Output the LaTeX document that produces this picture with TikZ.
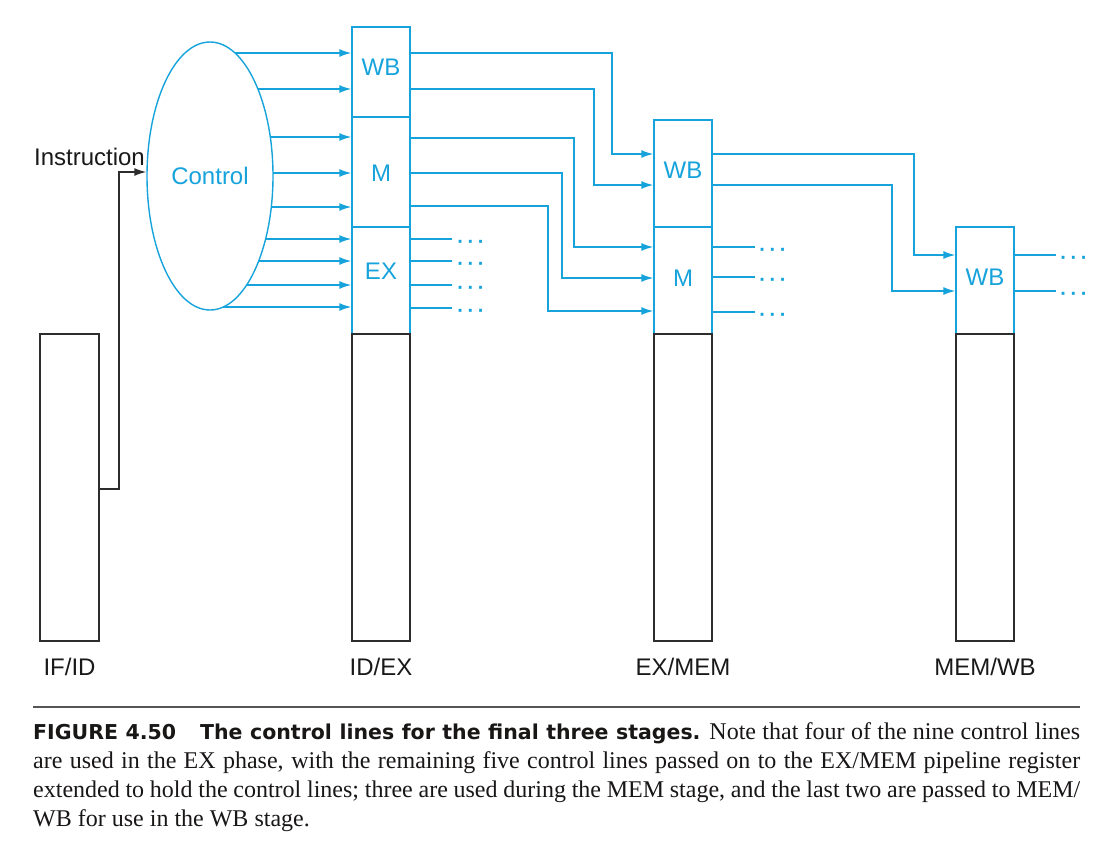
\documentclass[tikz,border=0pt]{standalone}
\usepackage{fontspec}
\setmainfont{Liberation Serif}
\newfontfamily\diagfont{Liberation Sans}
\newfontfamily\heavyfont{DejaVu Sans}
\usetikzlibrary{arrows.meta,shapes.geometric}
\definecolor{cblue}{RGB}{22,163,219}
\definecolor{cblack}{RGB}{45,45,45}
\definecolor{ctext}{RGB}{25,22,22}
\definecolor{crule}{RGB}{85,85,85}
\newcommand\mydots{\textperiodcentered\kern3.6pt\textperiodcentered\kern3.6pt\textperiodcentered}
\begin{document}
\begin{tikzpicture}[x=1pt,y=-1pt,
  bl/.style={draw=cblue, line width=1.4pt},
  blarr/.style={bl, -{Latex[length=12pt,width=8pt]}},
  karr/.style={draw=cblack, line width=1.4pt, -{Latex[length=12pt,width=8pt]}},
  reg/.style={draw=cblue, line width=1.4pt, rectangle, inner sep=0pt, minimum width=58pt},
  regk/.style={draw=cblack, line width=1.4pt, rectangle, inner sep=0pt, minimum width=58pt, minimum height=307pt},
  lbl/.style={font=\diagfont\fontsize{24}{28}\selectfont, text=cblue, inner sep=0pt},
  klbl/.style={font=\diagfont\fontsize{24}{28}\selectfont, text=black!90, inner sep=0pt},
  dotsl/.style={font=\diagfont\bfseries\fontsize{20}{24}\selectfont, text=cblue, inner sep=0pt, anchor=base},
]
\useasboundingbox (0,0) rectangle (1108,844);

% Control unit
\node[ellipse, draw=cblue, line width=1.4pt, minimum width=126pt, minimum height=268pt,
      inner sep=0pt, font=\diagfont\fontsize{24}{28}\selectfont, text=cblue] (ctrl) at (210,176) {Control};

% ID/EX register
\node[reg, minimum height=90pt]  (idexwb) at (381,72) {};
\node[reg, minimum height=110pt] (idexm)  at (381,172) {};
\node[reg, minimum height=107pt] (idexex) at (381,280.5) {};
\node[regk] (idexlow) at (381,487.5) {};
\node[lbl, anchor=base] (tidwb) at (381,75) {WB};
\node[lbl, anchor=base] (tidm)  at (381,181.7) {M};
\node[lbl, anchor=base] (tidex) at (381,279.3) {EX};

% EX/MEM register
\node[reg, minimum height=107pt] (exmemwb) at (683,173.5) {};
\node[reg, minimum height=107pt] (exmemm)  at (683,280.5) {};
\node[regk] (exmemlow) at (683,487.5) {};
\node[lbl, anchor=base] (texwb) at (683,178.3) {WB};
\node[lbl, anchor=base] (texm)  at (683,286) {M};

% MEM/WB register
\node[reg, minimum height=107pt] (memwbwb) at (985,280.5) {};
\node[regk] (memwblow) at (985,487.5) {};
\node[lbl, anchor=base] (tmwb) at (985,285.7) {WB};

% IF/ID register
\node[regk, minimum width=59pt] (ifid) at (69.5,487.5) {};

% stage names
\node[klbl, anchor=base] (nifid)  at (69.5,675.7) {IF/ID};
\node[klbl, anchor=base] (nidex)  at (381,675.7) {ID/EX};
\node[klbl, anchor=base] (nexmem) at (683,675.7) {EX/MEM};
\node[klbl, anchor=base] (nmemwb) at (985,675.7) {MEM/WB};

% Instruction into control
\node[klbl, anchor=base east] (tinstr) at (145,165) {Instruction};
\draw[karr] (ifid.east |- 0,489) -| (119,172) -- (ctrl.west |- 0,172);

% control lines from Control to ID/EX
\foreach \y [count=\i] in {53,89,137,173,207,239,261,285,307}
  \coordinate (cs\i) at ({210+63*sqrt(1-((\y-176)/134)*((\y-176)/134))},\y);
\draw[blarr] (cs1) -- (cs1 -| idexwb.west);
\draw[blarr] (cs2) -- (cs2 -| idexwb.west);
\draw[blarr] (cs3) -- (cs3 -| idexm.west);
\draw[blarr] (cs4) -- (cs4 -| idexm.west);
\draw[blarr] (cs5) -- (cs5 -| idexm.west);
\draw[blarr] (cs6) -- (cs6 -| idexex.west);
\draw[blarr] (cs7) -- (cs7 -| idexex.west);
\draw[blarr] (cs8) -- (cs8 -| idexex.west);
\draw[blarr] (cs9) -- (cs9 -| idexex.west);

% ID/EX to EX/MEM
\draw[blarr] (idexwb.east |- 0,53)  -| (612,154) -- (exmemwb.west |- 0,154);
\draw[blarr] (idexwb.east |- 0,89)  -| (594,185) -- (exmemwb.west |- 0,185);
\draw[blarr] (idexm.east |- 0,138)  -| (574,247) -- (exmemm.west |- 0,247);
\draw[blarr] (idexm.east |- 0,173)  -| (562,278) -- (exmemm.west |- 0,278);
\draw[blarr] (idexm.east |- 0,206)  -| (548,311) -- (exmemm.west |- 0,311);

% EX lines used in EX stage
\foreach \y [count=\i] in {239,261,285,308} {
  \coordinate (ee\i) at (452,\y);
  \draw[bl] (idexex.east |- ee\i) -- (ee\i);
  \node[dotsl] (de\i) at (471,\y+9) {\mydots};
}

% EX/MEM to MEM/WB
\draw[blarr] (exmemwb.east |- 0,154) -| (914,255) -- (memwbwb.west |- 0,255);
\draw[blarr] (exmemwb.east |- 0,185) -| (892,291) -- (memwbwb.west |- 0,291);

% M lines used in MEM stage
\foreach \y [count=\i] in {247,277,312} {
  \coordinate (me\i) at (755,\y);
  \draw[bl] (exmemm.east |- me\i) -- (me\i);
  \node[dotsl] (dm\i) at (773,\y+9) {\mydots};
}

% WB lines out of MEM/WB
\foreach \y [count=\i] in {255,291} {
  \coordinate (we\i) at (1056,\y);
  \draw[bl] (memwbwb.east |- we\i) -- (we\i);
  \node[dotsl] (dw\i) at (1074,\y+9) {\mydots};
}

% caption
\draw[draw=crule, line width=2pt] (33,707) -- (1080,707);
\node[anchor=north west, inner sep=0pt, text width=1047pt, align=justify, text=ctext,
      font=\fontsize{24}{29}\selectfont] (cap) at (33,722.5)
{{\heavyfont\bfseries\fontsize{20.5}{29}\selectfont FIGURE 4.50\hspace{24pt}The control lines for the final three stages.}
Note that four of the nine control lines\linebreak
are used in the EX phase, with the remaining five control lines passed on to the EX/MEM pipeline register\linebreak
extended to hold the control lines; three are used during the MEM stage, and the last two are passed to MEM/\linebreak
WB for use in the WB stage.};
\end{tikzpicture}
\end{document}
